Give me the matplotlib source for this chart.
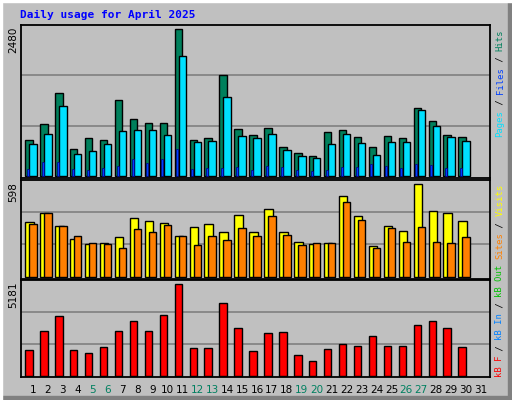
import numpy as np
from matplotlib import pyplot as plt
from matplotlib.patches import Rectangle

days = np.arange(1, 32)
weekend = [5, 6, 12, 13, 19, 20, 26, 27]

hits = [591, 854, 1363, 443, 624, 591, 1248, 936, 870, 870, 2414, 591, 624, 1658, 772,
        673, 788, 476, 378, 328, 722, 755, 640, 476, 657, 624, 1117, 903, 673, 640]
files = [525, 690, 1149, 361, 410, 525, 739, 755, 755, 673, 1970, 558, 575, 1297, 657,
         624, 690, 427, 328, 296, 525, 690, 542, 345, 558, 558, 1084, 821, 640, 575]
pages = [115, 230, 230, 115, 99, 131, 164, 279, 213, 279, 443, 115, 131, 131, 148,
         99, 164, 148, 99, 82, 99, 148, 148, 197, 164, 131, 197, 181, 131, 131]
visits = [336, 392, 311, 231, 200, 206, 243, 361, 342, 330, 250, 305, 324, 274, 379,
          274, 417, 274, 212, 200, 206, 497, 373, 188, 311, 280, 571, 404, 392, 342]
sites = [324, 392, 311, 250, 206, 200, 175, 293, 274, 318, 250, 194, 250, 225, 299,
         250, 373, 256, 194, 206, 206, 460, 348, 175, 299, 212, 305, 212, 206, 243]
kbytes = [1382, 2418, 3236, 1382, 1218, 1545, 2418, 2963, 2418, 3291, 4981, 1491, 1491, 3945, 2582,
          1327, 2309, 2363, 1109, 782, 1436, 1709, 1600, 2145, 1600, 1600, 2745, 2963, 2582, 1545]

max_hits = 2480
max_visits = 598
max_kb = 5181

bg = '#c0c0c0'
W, H = 512, 400
fig = plt.figure(figsize=(5.12, 4.0), dpi=100, facecolor=bg)

# 3d border
fig.patches.append(Rectangle((0, 0), 1, 1, transform=fig.transFigure, fill=False,
                             edgecolor='white', lw=0))
fig.patches.append(Rectangle((0, 0), 1, 4 / H, transform=fig.transFigure, color='#808080'))
fig.patches.append(Rectangle((1 - 4 / W, 0), 4 / W, 1, transform=fig.transFigure, color='#808080'))
fig.patches.append(Rectangle((0, 1 - 2 / H), 1, 2 / H, transform=fig.transFigure, color='white'))
fig.patches.append(Rectangle((0, 0), 2 / W, 1, transform=fig.transFigure, color='white'))


def make_ax(top, bottom):
    ax = fig.add_axes([21 / W, (H - bottom) / H, 469 / W, (bottom - top) / H])
    ax.set_facecolor(bg)
    ax.set_xlim(0.2, 31.6)
    ax.set_xticks([])
    ax.set_yticks([])
    for s in ax.spines.values():
        s.set_color('black')
        s.set_linewidth(1.3)
    return ax


px = 1 / 14.93  # one pixel in day units

ax1 = make_ax(25, 178)
ax1.set_ylim(-max_hits * 2 / 151, max_hits)
for v in (max_hits / 3, 2 * max_hits / 3):
    ax1.axhline(v, color='#808080', lw=1.2, zorder=0)
ax1.bar(days[:30] - 4 * px, hits, width=7.4 * px, color='#00805c', edgecolor='black', lw=1)
ax1.bar(days[:30], files, width=7.4 * px, color='#00e0ff', edgecolor='black', lw=1)
ax1.bar(days[:30] - 5 * px, pages, width=2 * px, color='#0040ff', edgecolor='#000080', lw=0.5)

ax2 = make_ax(180, 279)
ax2.set_ylim(-max_visits * 2.3 / 96.7, max_visits)
for v in (max_visits / 3, 2 * max_visits / 3):
    ax2.axhline(v, color='#808080', lw=1.2, zorder=0)
ax2.bar(days[:30] - 3.5 * px, visits, width=8.4 * px, color='#ffff00', edgecolor='black', lw=1)
ax2.bar(days[:30], sites, width=7.4 * px, color='#ff8000', edgecolor='black', lw=1)

ax3 = make_ax(280, 377)
ax3.set_ylim(-max_kb * 1.3 / 95.7, max_kb)
for v in (max_kb / 3, 2 * max_kb / 3):
    ax3.axhline(v, color='#808080', lw=1.2, zorder=0)
ax3.bar(days[:30] - 4 * px, kbytes, width=7.4 * px, color='#ff0000', edgecolor='black', lw=1)

# day labels
for d in days:
    col = '#008060' if d in weekend else 'black'
    ax3.text(d, -0.13, str(d), transform=ax3.get_xaxis_transform(), ha='center', va='center',
             fontsize=7.5, color=col)

# title and max labels
fig.text(20 / W, 1 - 15 / H, 'Daily usage for April 2025', color='#0000ff', fontsize=8,
         fontweight='bold', family='DejaVu Sans Mono', va='center')
for y, label in ((27, str(max_hits)), (182, str(max_visits)), (282, str(max_kb))):
    fig.text(13 / W, 1 - y / H, label, rotation=90, ha='center', va='top', fontsize=7.5)


def side_text(y0, parts):
    y = y0
    for txt, col in parts:
        fig.text(500 / W, 1 - y / H, txt, rotation=90, ha='center', va='bottom', color=col,
                 fontsize=6.4, family='DejaVu Sans Mono')
        y -= len(txt) * 5.35


side_text(137, [('Pages', '#00e0ff'), (' / ', 'black'), ('Files', '#0040ff'),
                (' / ', 'black'), ('Hits', '#00805c')])
side_text(377, [('kB F', '#ff0000'), (' / ', 'black'), ('kB In', '#0080ff'),
                (' / ', 'black'), ('kB Out', '#00c000'), (' ', 'black'), ('Sites', '#ff8000'),
                (' / ', 'black'), ('Visits', '#ffff00')])

plt.savefig('out.png', dpi=100, facecolor=bg)
plt.close()
